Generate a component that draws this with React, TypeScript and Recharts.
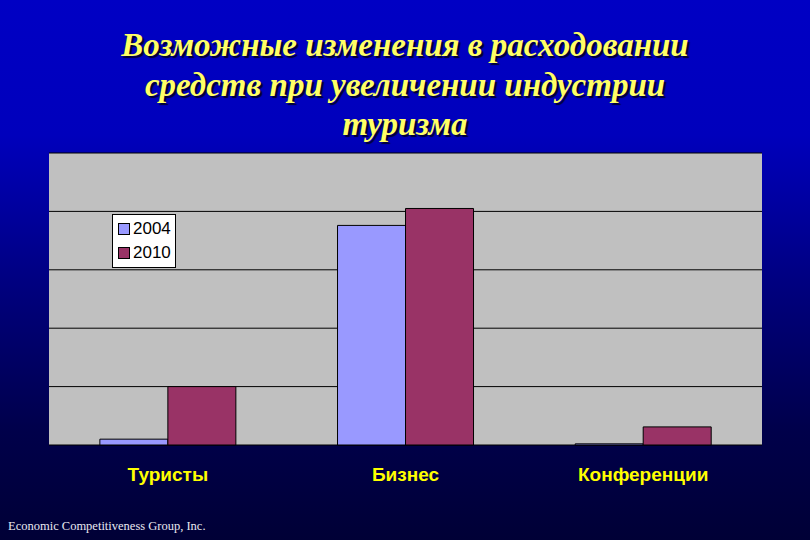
import React from "react";
import { BarChart, Bar, XAxis, YAxis, CartesianGrid } from "recharts";

const categories = ["Туристы", "Бизнес", "Конференции"];
const values2004 = [0.1, 3.76, 0.02];
const values2010 = [1.0, 4.05, 0.31];
const yTicks = [0, 1, 2, 3, 4, 5];

const SERIES = [
  { key: "y2004", name: "2004", color: "#9999ff" },
  { key: "y2010", name: "2010", color: "#993366" },
];

const data = categories.map((c, i) => ({
  name: c,
  y2004: values2004[i],
  y2010: values2010[i],
}));

const titleLines = [
  "Возможные изменения в расходовании",
  "средств при увеличении индустрии",
  "туризма",
];

// легенда в белой рамке, как в исходном слайде
const LegendBox = () => (
  <div
    style={{
      position: "absolute",
      left: 112,
      top: 214,
      background: "#fff",
      border: "1px solid #000",
      padding: "2px 4px 2px 5px",
      fontFamily: "'Liberation Sans', Arial, sans-serif",
      fontSize: 17,
      lineHeight: "24px",
      color: "#000",
    }}
  >
    {SERIES.map((s) => (
      <div key={s.key} style={{ display: "flex", alignItems: "center" }}>
        <span
          style={{
            display: "inline-block",
            width: 10,
            height: 10,
            background: s.color,
            border: "1px solid #000",
            marginRight: 3,
          }}
        />
        {s.name}
      </div>
    ))}
  </div>
);

export default function App() {
  return (
    <div
      style={{
        position: "absolute",
        left: 0,
        top: 0,
        width: 810,
        height: 540,
        overflow: "hidden",
        background:
          "linear-gradient(to bottom, #0000c4 0%, #0000bc 25%, #00007a 55%, #00004a 80%, #000036 100%)",
      }}
    >
      <div
        style={{
          position: "absolute",
          top: 26,
          left: 0,
          width: 810,
          textAlign: "center",
          fontFamily: "'Liberation Serif', 'Times New Roman', serif",
          fontStyle: "italic",
          fontWeight: "bold",
          fontSize: 33,
          lineHeight: "39.5px",
          color: "#ffff66",
          textShadow: "2px 2px 1px #000030",
        }}
      >
        {titleLines.map((l) => (
          <div key={l}>{l}</div>
        ))}
      </div>

      <BarChart
        width={810}
        height={540}
        data={data}
        margin={{ top: 153, right: 48, bottom: 65, left: 49 }}
        barCategoryGap="21.4%"
        barGap={0}
      >
        <CartesianGrid
          vertical={false}
          stroke="#000"
          fill="#c0c0c0"
          fillOpacity={1}
        />
        <YAxis hide domain={[0, 5]} ticks={yTicks} />
        <XAxis
          dataKey="name"
          axisLine={false}
          tickLine={false}
          tickMargin={17}
          tick={{
            fill: "#ffff00",
            fontSize: 19,
            fontWeight: "bold",
            fontFamily: "'Liberation Sans', Arial, sans-serif",
          }}
        />
        {SERIES.map((s) => (
          <Bar
            key={s.key}
            dataKey={s.key}
            name={s.name}
            fill={s.color}
            stroke="#000"
            strokeWidth={1}
            isAnimationActive={false}
          />
        ))}
      </BarChart>

      <LegendBox />

      <div
        style={{
          position: "absolute",
          left: 8,
          top: 519,
          fontFamily: "'Liberation Serif', 'Times New Roman', serif",
          fontSize: 12.5,
          color: "#e8e8f0",
        }}
      >
        Economic Competitiveness Group, Inc.
      </div>
    </div>
  );
}
